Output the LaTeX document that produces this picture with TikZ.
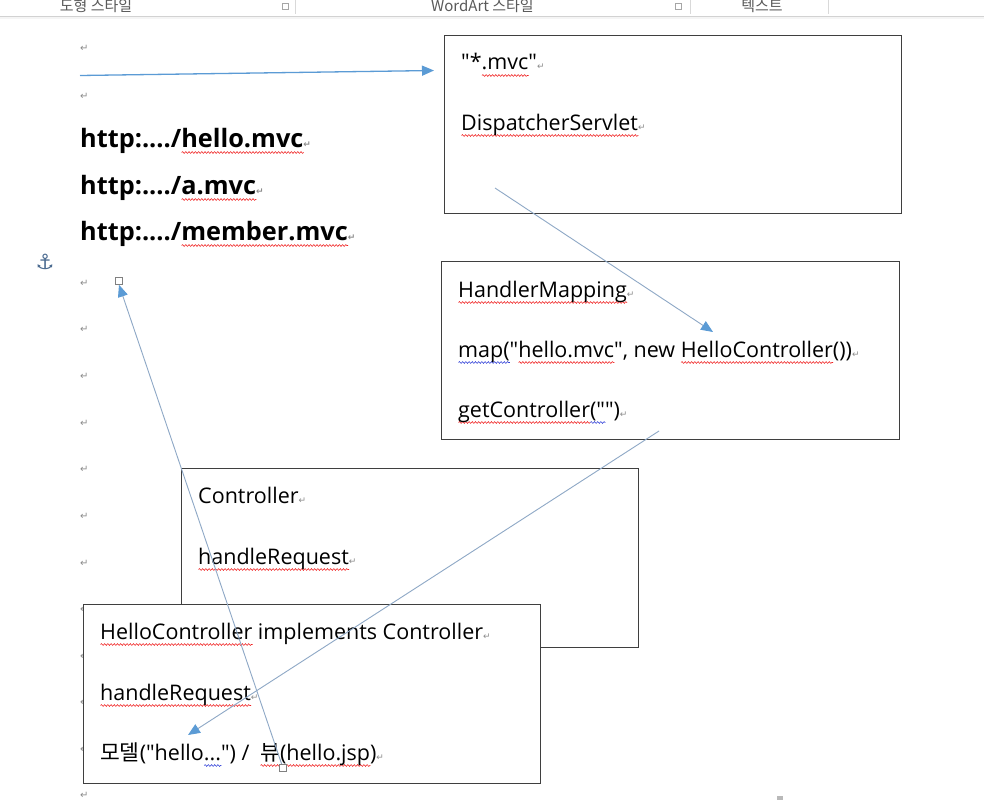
\documentclass[tikz,border=0pt]{standalone}
\usepackage{fontspec}
\setmainfont{Open Sans}[Ligatures=TeXOff]
\newfontfamily\kr{Noto Sans CJK KR}
\newfontfamily\dv{DejaVu Sans}
\usetikzlibrary{arrows.meta,decorations.pathmorphing}
\definecolor{arrowblue}{HTML}{5B9BD5}
\definecolor{lineblue}{HTML}{8EA8C6}
\definecolor{boxgray}{HTML}{3F3F3F}
\definecolor{markgray}{HTML}{8C8C8C}
\definecolor{tbtext}{HTML}{5A5A5A}
\definecolor{spellred}{HTML}{F02020}
\definecolor{spellblue}{HTML}{3040D8}
\definecolor{anchorblue}{HTML}{4A6A90}
\newsavebox\wavebox
\newlength\wavelen
\newcommand\wv[2]{\sbox\wavebox{#2}\setlength\wavelen{\wd\wavebox}%
  \rlap{\tikz[baseline=0pt]\draw[draw=#1,line width=0.55pt,decorate,decoration={snake,amplitude=0.9pt,segment length=3.2pt}] (0pt,-5.5pt) -- (\wavelen,-5.5pt);}%
  \usebox\wavebox}
\newcommand\redwave[1]{\wv{spellred}{#1}}
\newcommand\bluewave[1]{\wv{spellblue}{#1}}
\newcommand\parmark{{\dv\fontsize{9}{9}\selectfont\textcolor{markgray}{↵}}}
\begin{document}
\begin{tikzpicture}[x=1pt,y=-1pt,
  box/.style={draw=boxgray,line width=1.2pt,fill=white,anchor=north west,inner sep=0pt},
  txt/.style={anchor=base west,inner sep=0pt,font=\fontsize{21.5}{25}\selectfont},
  url/.style={anchor=base west,inner sep=0pt,font=\fontsize{25.3}{30}\selectfont\bfseries},
  pmark/.style={anchor=base west,inner sep=0pt,font=\dv\fontsize{10}{10}\selectfont,text=markgray},
  tb/.style={anchor=base,inner sep=0pt,font=\kr\fontsize{15}{15}\selectfont,text=tbtext},
  conn/.style={draw=lineblue,line width=0.9pt,-{Triangle[length=12pt,width=10pt,color=arrowblue]}},
  mainconn/.style={draw=arrowblue,line width=1.3pt,-{Triangle[length=12pt,width=10pt,color=arrowblue]}},
  handle/.style={draw=gray,fill=white,line width=0.6pt,minimum size=7pt,inner sep=0pt}
]
\useasboundingbox (0,0) rectangle (984,800);
\fill[white] (0,0) rectangle (984,800);
% toolbar strip
\fill[gray!8] (0,16) rectangle (984,19);
\draw[gray!35,line width=0.6pt] (0,16) -- (984,16);
\begin{scope}
\clip (0,0) rectangle (984,15.5);
\node[tb] (tb1) at (96,12) {도형 스타일};
\node[tb] (tb2) at (482.5,12) {WordArt 스타일};
\node[tb] (tb3) at (762,12) {텍스트};
\end{scope}
\draw[gray!30,line width=0.6pt] (295,0) -- (295,14) (690,0) -- (690,14) (828,0) -- (828,14);
\draw[gray!70,line width=0.5pt] (282,3) rectangle (288,9) (675,3) rectangle (681,9);
% paragraph marks
\foreach \yy/\nm in {52/p1,99/p2,286/p3,332/p4,379/p5,426/p6,472/p7,519/p8,566/p9,612/p10,659/p11,705/p12,752/p13,798/p14}
  \node[pmark] (\nm) at (80,\yy) {↵};
% anchor
\node[font=\dv\fontsize{21}{21}\selectfont,text=anchorblue,inner sep=0pt] (anc) at (45,262) {⚓};
% urls
\node[url] (u1) at (80,147) {http:..../\redwave{hello.mvc}\parmark};
\node[url] (u2) at (80,194) {http:..../\redwave{a.mvc}\parmark};
\node[url] (u3) at (80,240) {http:..../\redwave{member.mvc}\parmark};
% boxes
\node[box,minimum width=457pt,minimum height=178pt] (ds) at (444,35) {};
\node[txt] (ds1) at ([shift={(17,35)}]ds.north west) {"*\redwave{.mvc}"\parmark};
\node[txt] (ds2) at ([shift={(17,95)}]ds.north west) {\redwave{DispatcherServlet}\parmark};
\node[box,minimum width=458pt,minimum height=178pt] (hm) at (441,261) {};
\node[txt] (hm1) at ([shift={(17,36)}]hm.north west) {\redwave{HandlerMapping}\parmark};
\node[txt] (hm2) at ([shift={(17,96)}]hm.north west) {\bluewave{map(}"\redwave{hello.mvc}", new \redwave{HelloController}())\parmark};
\node[txt] (hm3) at ([shift={(17,156)}]hm.north west) {\redwave{getController}\bluewave{("}")\parmark};
\node[box,minimum width=457pt,minimum height=179pt] (ctl) at (181,468) {};
\node[txt] (ctl1) at ([shift={(17,35)}]ctl.north west) {Controller\parmark};
\node[txt] (ctl2) at ([shift={(17,96)}]ctl.north west) {\redwave{handleRequest}\parmark};
\node[box,minimum width=457pt,minimum height=179pt] (hc) at (83,604) {};
\node[txt] (hc1) at ([shift={(17,35)}]hc.north west) {\redwave{HelloController} implements Controller\parmark};
\node[txt] (hc2) at ([shift={(17,96)}]hc.north west) {\redwave{handleRequest}\parmark};
\node[txt] (hc3) at ([shift={(17,156)}]hc.north west) {{\kr 모델}("hello\bluewave{...}") /\hspace{0.5em}\redwave{{\kr 뷰}(hello.jsp})\parmark};
% connectors
\coordinate (t0) at (80,75.5);
\coordinate (t1) at (434,70.5);
\draw[mainconn] (t0) -- (t1);
\coordinate (aS) at (495,188);
\coordinate (aE) at (713,332);
\draw[conn] (aS) -- (aE);
\coordinate (bS) at (659,431);
\coordinate (bE) at (188,735);
\draw[conn] (bS) -- (bE);
\node[handle] (h1) at (119,281) {};
\node[handle] (h2) at (283,768) {};
\draw[conn] (h2.center) -- (h1.south);
\node[handle] (h1b) at (119,281) {};
\node[handle] (h2b) at (283,768) {};
\fill[gray!55] (777,796) rectangle (783,800);
\end{tikzpicture}
\end{document}
